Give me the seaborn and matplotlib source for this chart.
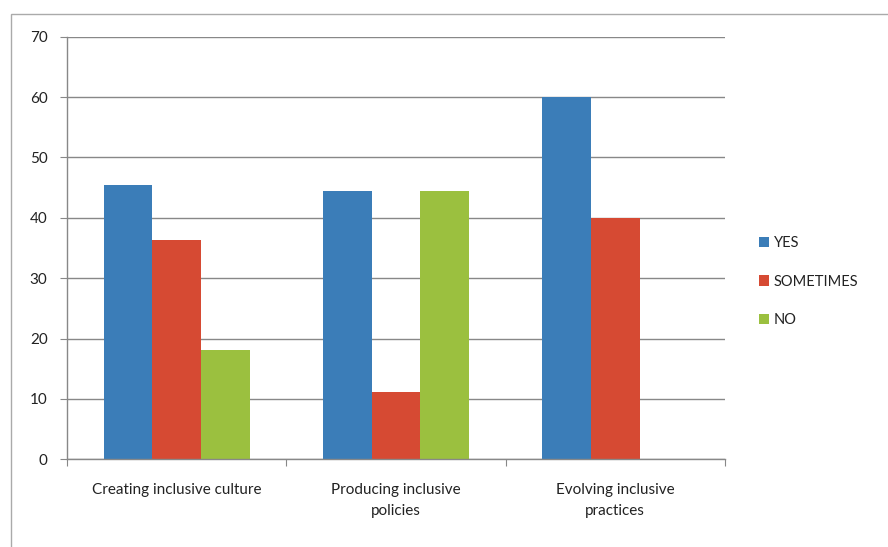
import pandas as pd
import matplotlib.pyplot as plt
import seaborn as sns
from matplotlib.patches import Rectangle

# chart values

categories = ["Creating inclusive culture", "Producing inclusive\npolicies", "Evolving inclusive\npractices"]
responses = ["YES", "SOMETIMES", "NO"]
yes_vals = [45.45, 44.44, 60.0]
sometimes_vals = [36.36, 11.11, 40.0]
no_vals = [18.18, 44.44, 0.0]
y_ticks = [0, 10, 20, 30, 40, 50, 60, 70]

colors = ["#3B7DB8", "#D64A33", "#9BC03F"]

data = pd.DataFrame({
    "Category": categories * 3,
    "Response": ["YES"] * 3 + ["SOMETIMES"] * 3 + ["NO"] * 3,
    "Value": yes_vals + sometimes_vals + no_vals,
})

sns.set_style("white")
plt.rcParams['font.family'] = ['Lato', 'DejaVu Sans']

fig = plt.figure(figsize=(8.88, 5.47), dpi=100)
ax = fig.add_axes([0.0755, 0.1603, 0.7409, 0.7726])

sns.barplot(data=data, x="Category", y="Value", hue="Response", hue_order=responses,
            palette=colors, width=0.667, saturation=1, linewidth=0, ax=ax, legend=True)

ax.set_ylim(0, 70)
ax.set_xlim(-0.5, 2.5)
ax.set_yticks(y_ticks)
ax.set_yticklabels([str(t) for t in y_ticks], fontsize=11, color="#222222")
ax.yaxis.grid(True, color="#888888", linewidth=1)
ax.set_axisbelow(True)
ax.set_xlabel("")
ax.set_ylabel("")
ax.tick_params(axis="y", length=5, width=0.8, color="#888888", direction="out", left=True, pad=9)
ax.set_xticks([0, 1, 2])
ax.set_xticklabels(categories, fontsize=11, color="#222222", linespacing=1.6)
ax.set_xticks([-0.5, 0.5, 1.5, 2.5], minor=True)
ax.tick_params(axis="x", which="major", length=0, pad=17)
ax.tick_params(axis="x", which="minor", length=5, width=0.8, color="#888888", direction="out", bottom=True)
for side in ["top", "right"]:
    ax.spines[side].set_visible(False)
for side in ["left", "bottom"]:
    ax.spines[side].set_color("#888888")
    ax.spines[side].set_linewidth(1)

# legend on the right like the original
handles, labels = ax.get_legend_handles_labels()
ax.legend(handles, labels, loc="center left", bbox_to_anchor=(0.84, 0.485),
          bbox_transform=fig.transFigure, frameon=False, fontsize=10.5,
          labelcolor="#222222", handlelength=0.7, handleheight=0.7,
          handletextpad=0.3, labelspacing=1.7)

# outer chart frame
fig.patches.append(Rectangle((0.012, -0.05), 1.05, 1.025, transform=fig.transFigure,
                             fill=False, edgecolor="#AAAAAA", linewidth=1))

fig.savefig("out.png", dpi=100)
